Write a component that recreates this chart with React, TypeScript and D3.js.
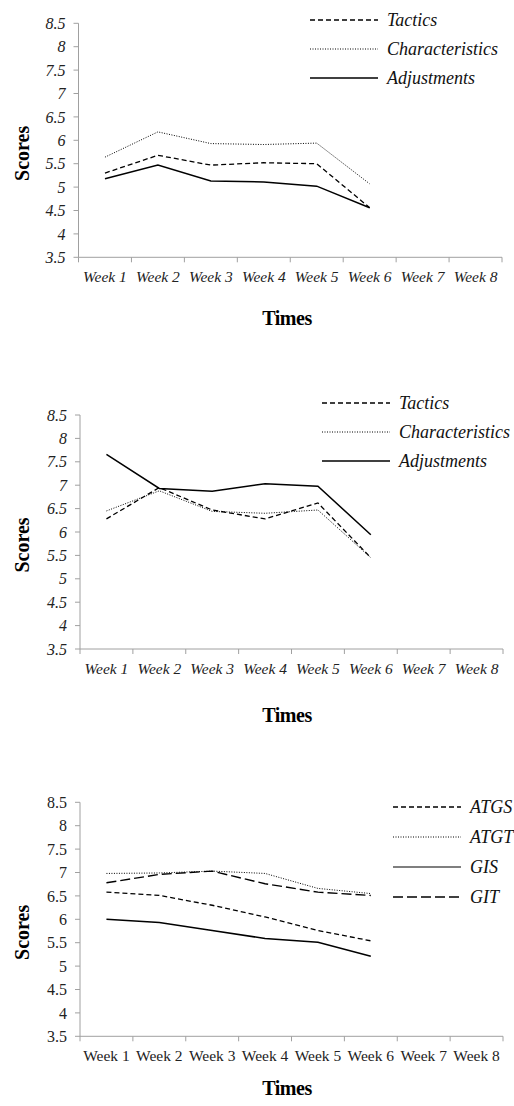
import React from "react";
import * as d3 from "d3";

const weeks = ["Week 1", "Week 2", "Week 3", "Week 4", "Week 5", "Week 6", "Week 7", "Week 8"];
const yTickValues = [3.5, 4, 4.5, 5, 5.5, 6, 6.5, 7, 7.5, 8, 8.5];

// chart 1
const c1Tactics = [5.3, 5.68, 5.47, 5.52, 5.5, 4.56];
const c1Characteristics = [5.64, 6.18, 5.93, 5.91, 5.94, 5.07];
const c1Adjustments = [5.18, 5.47, 5.13, 5.11, 5.02, 4.56];

// chart 2
const c2Tactics = [6.28, 6.95, 6.47, 6.28, 6.62, 5.45];
const c2Characteristics = [6.45, 6.88, 6.44, 6.4, 6.47, 5.45];
const c2Adjustments = [7.66, 6.93, 6.87, 7.03, 6.98, 5.94];

// chart 3
const c3ATGS = [6.58, 6.51, 6.3, 6.05, 5.76, 5.54];
const c3ATGT = [6.98, 6.99, 7.03, 6.98, 6.66, 6.55];
const c3GIS = [6.0, 5.93, 5.76, 5.59, 5.51, 5.21];
const c3GIT = [6.78, 6.96, 7.03, 6.76, 6.58, 6.51];

const DASH = { dash: "5,3", width: 1.3 };
const DOT = { dash: "1,1.5", width: 1 };
const SOLID = { dash: null, width: 1.5 };
const LONG = { dash: "10,4", width: 1.4 };

const FONT = "'Liberation Serif', 'Times New Roman', Times, serif";
const AXIS = "#a0a0a0";

type Series = { name: string; values: number[]; style: { dash: string | null; width: number }; legendColor?: string };

function Chart(props: {
  top: number;
  left: number;
  right: number;
  italic: boolean;
  series: Series[];
  legendX: number;
  legendY: number;
  legendGap: number;
  titleOffset: number;
}) {
  const { top, left, right, italic, series, legendX, legendY, legendGap, titleOffset } = props;
  const h = 234;
  const bottom = top + h;
  const fs = italic ? "italic" : "normal";

  const x = d3.scaleBand().domain(weeks).range([left, right]);
  const y = d3.scaleLinear().domain([3.5, 8.5]).range([bottom, top]);
  const line = d3
    .line<number>()
    .x((d, i) => (x(weeks[i]) as number) + x.bandwidth() / 2)
    .y((d) => y(d));

  const boundaries = weeks.map((w) => x(w) as number).concat([right]);

  return (
    <g>
      {/* y axis */}
      <line x1={left} x2={left} y1={top} y2={bottom} stroke={AXIS} strokeWidth={1} />
      {yTickValues.map((t) => (
        <g key={t}>
          <line x1={left - 5} x2={left} y1={y(t)} y2={y(t)} stroke={AXIS} strokeWidth={1} />
          <text
            x={left - 13}
            y={y(t)}
            dy="0.35em"
            textAnchor="end"
            style={{ fontSize: 16, fontStyle: fs, fontFamily: FONT }}
            fill="#222"
          >
            {String(t)}
          </text>
        </g>
      ))}
      {/* x axis */}
      <line x1={left} x2={right} y1={bottom} y2={bottom} stroke={AXIS} strokeWidth={1} />
      {boundaries.map((b, i) => (
        <line key={i} x1={b} x2={b} y1={bottom} y2={bottom + 5} stroke={AXIS} strokeWidth={1} />
      ))}
      {weeks.map((w) => (
        <text
          key={w}
          x={(x(w) as number) + x.bandwidth() / 2}
          y={bottom + 25}
          textAnchor="middle"
          style={{ fontSize: 15.5, fontStyle: fs, fontFamily: FONT }}
          fill="#222"
        >
          {w}
        </text>
      ))}
      {/* titles */}
      <text
        x={287}
        y={bottom + titleOffset}
        textAnchor="middle"
        style={{ fontSize: 20, fontWeight: "bold", fontFamily: FONT, letterSpacing: -0.5 }}
      >
        Times
      </text>
      <text
        transform={`translate(29,${(top + bottom) / 2 + 13}) rotate(-90)`}
        textAnchor="middle"
        style={{ fontSize: 20, fontWeight: "bold", fontFamily: FONT }}
      >
        Scores
      </text>
      {/* lines */}
      {series.map((s) => (
        <path
          key={s.name}
          d={line(s.values) as string}
          fill="none"
          stroke="#000"
          strokeWidth={s.style.width}
          strokeDasharray={s.style.dash ?? undefined}
        />
      ))}
      {/* legend */}
      {series.map((s, i) => (
        <g key={s.name} transform={`translate(${legendX},${legendY + i * legendGap})`}>
          <line
            x1={0}
            x2={68}
            y1={0}
            y2={0}
            stroke={s.legendColor ?? "#000"}
            strokeWidth={s.style.width}
            strokeDasharray={s.style.dash ?? undefined}
          />
          <text x={77} dy="0.35em" style={{ fontSize: 18, fontStyle: "italic", fontFamily: FONT }} fill="#111">
            {s.name}
          </text>
        </g>
      ))}
    </g>
  );
}

export default function App() {
  return (
    <svg
      width={514}
      height={1106}
      style={{ position: "absolute", left: 0, top: 0, background: "#fff", fontFamily: FONT }}
    >
      <Chart
        top={23.3}
        left={78.5}
        right={502}
        italic={true}
        legendX={310}
        legendY={20}
        legendGap={29}
        titleOffset={68}
        series={[
          { name: "Tactics", values: c1Tactics, style: DASH },
          { name: "Characteristics", values: c1Characteristics, style: DOT },
          { name: "Adjustments", values: c1Adjustments, style: SOLID },
        ]}
      />
      <Chart
        top={415}
        left={80}
        right={503}
        italic={true}
        legendX={322}
        legendY={403}
        legendGap={29}
        titleOffset={73}
        series={[
          { name: "Tactics", values: c2Tactics, style: DASH },
          { name: "Characteristics", values: c2Characteristics, style: DOT },
          { name: "Adjustments", values: c2Adjustments, style: SOLID },
        ]}
      />
      <Chart
        top={802.3}
        left={80}
        right={503}
        italic={false}
        legendX={393}
        legendY={807}
        legendGap={30}
        titleOffset={59}
        series={[
          { name: "ATGS", values: c3ATGS, style: DASH },
          { name: "ATGT", values: c3ATGT, style: DOT },
          { name: "GIS", values: c3GIS, style: SOLID, legendColor: "#555" },
          { name: "GIT", values: c3GIT, style: LONG },
        ]}
      />
    </svg>
  );
}
